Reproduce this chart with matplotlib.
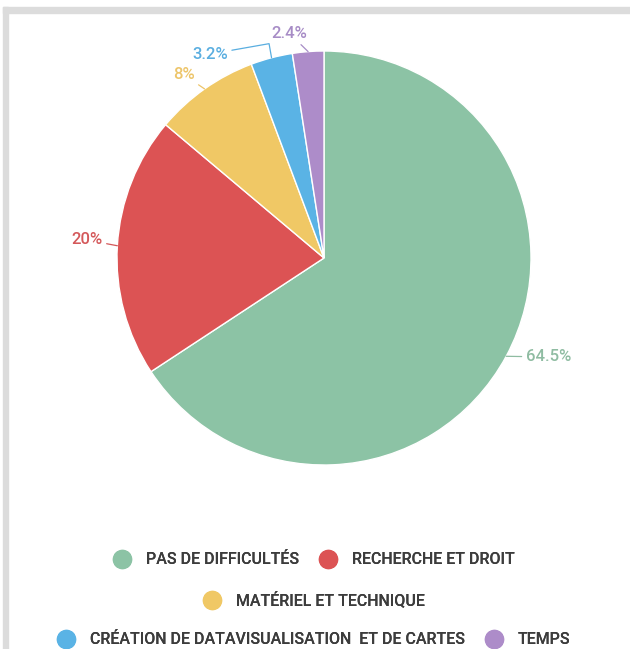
import numpy as np
import matplotlib.pyplot as plt
from matplotlib.lines import Line2D
from matplotlib.patches import Rectangle

plt.rcParams['font.family'] = ['Roboto', 'DejaVu Sans']

categories = ['PAS DE DIFFICULTÉS', 'RECHERCHE ET DROIT', 'MATÉRIEL ET TECHNIQUE',
              'CRÉATION DE DATAVISUALISATION  ET DE CARTES', 'TEMPS']
values = [64.5, 20, 8, 3.2, 2.4]
pct_labels = ['64.5%', '20%', '8%', '3.2%', '2.4%']
colors = ['#8cc3a5', '#dc5354', '#f0c865', '#5ab3e5', '#ad8cc9']
label_colors = ['#8fbca2', '#d4585a', '#edc56a', '#5aaee0', '#a78cc6']

fig = plt.figure(figsize=(6.3, 6.49), dpi=100)
W, H = 630, 649

# light grey frame on top and left
fig.patches.append(Rectangle((3 / W, 0), 5 / W, 1 - 7 / H, transform=fig.transFigure,
                             color='#dcdcdc', zorder=0))
fig.patches.append(Rectangle((3 / W, 1 - 12.5 / H), 1 - 3 / W, 5.5 / H, transform=fig.transFigure,
                             color='#dcdcdc', zorder=0))

# pie axes: centre (324, 258) px, radius 207 px
cx, cy, r = 324, 258, 207
ax = fig.add_axes([(cx - r) / W, (H - cy - r) / H, 2 * r / W, 2 * r / H])
wedges, _ = ax.pie(values, colors=colors, startangle=90, counterclock=False, radius=1,
                   wedgeprops=dict(edgecolor='white', linewidth=1))
ax.set_xlim(-1, 1)
ax.set_ylim(-1, 1)
ax.axis('off')

# label placement (text position in axes units, alignment, connection style)
text_pos = [(0.975, -0.478), (-1.07, 0.087), (-0.625, 0.885), (-0.465, 0.985), (-0.08, 1.085)]
aligns = ['left', 'right', 'right', 'right', 'right']
conns = ['arc3', 'arc3', 'arc3', 'angle,angleA=10,angleB=100,rad=0', 'arc3']

for w, lab, tc, pos, ha, cs in zip(wedges, pct_labels, label_colors, text_pos, aligns, conns):
    mid = np.deg2rad((w.theta1 + w.theta2) / 2)
    anchor = (np.cos(mid), np.sin(mid))
    ax.annotate(lab, xy=anchor, xytext=pos, ha=ha, va='center', color=tc,
                fontsize=12, fontweight='medium', annotation_clip=False,
                arrowprops=dict(arrowstyle='-', color=tc, lw=0.9, connectionstyle=cs,
                                shrinkA=1, shrinkB=0))

# legend in three rows
handles = [Line2D([], [], linestyle='none', marker='o', markersize=13,
                  markerfacecolor=c, markeredgecolor=c) for c in colors]
rows = [[0, 1], [2], [3, 4]]
row_y = [560, 600, 640]
for idx, y in zip(rows, row_y):
    leg = fig.legend([handles[i] for i in idx], [categories[i] for i in idx],
                     loc='center', bbox_to_anchor=(0.5 - 1 / W, 1 - y / H), ncol=len(idx),
                     frameon=False, fontsize=11.5, handlelength=1.0, handletextpad=1.0,
                     columnspacing=1.3, borderpad=0, borderaxespad=0,
                     prop=dict(size=11.5, weight='medium'))
    for t in leg.get_texts():
        t.set_color('#3c3c3c')
    fig.add_artist(leg)

fig.savefig('out.png', dpi=100)
